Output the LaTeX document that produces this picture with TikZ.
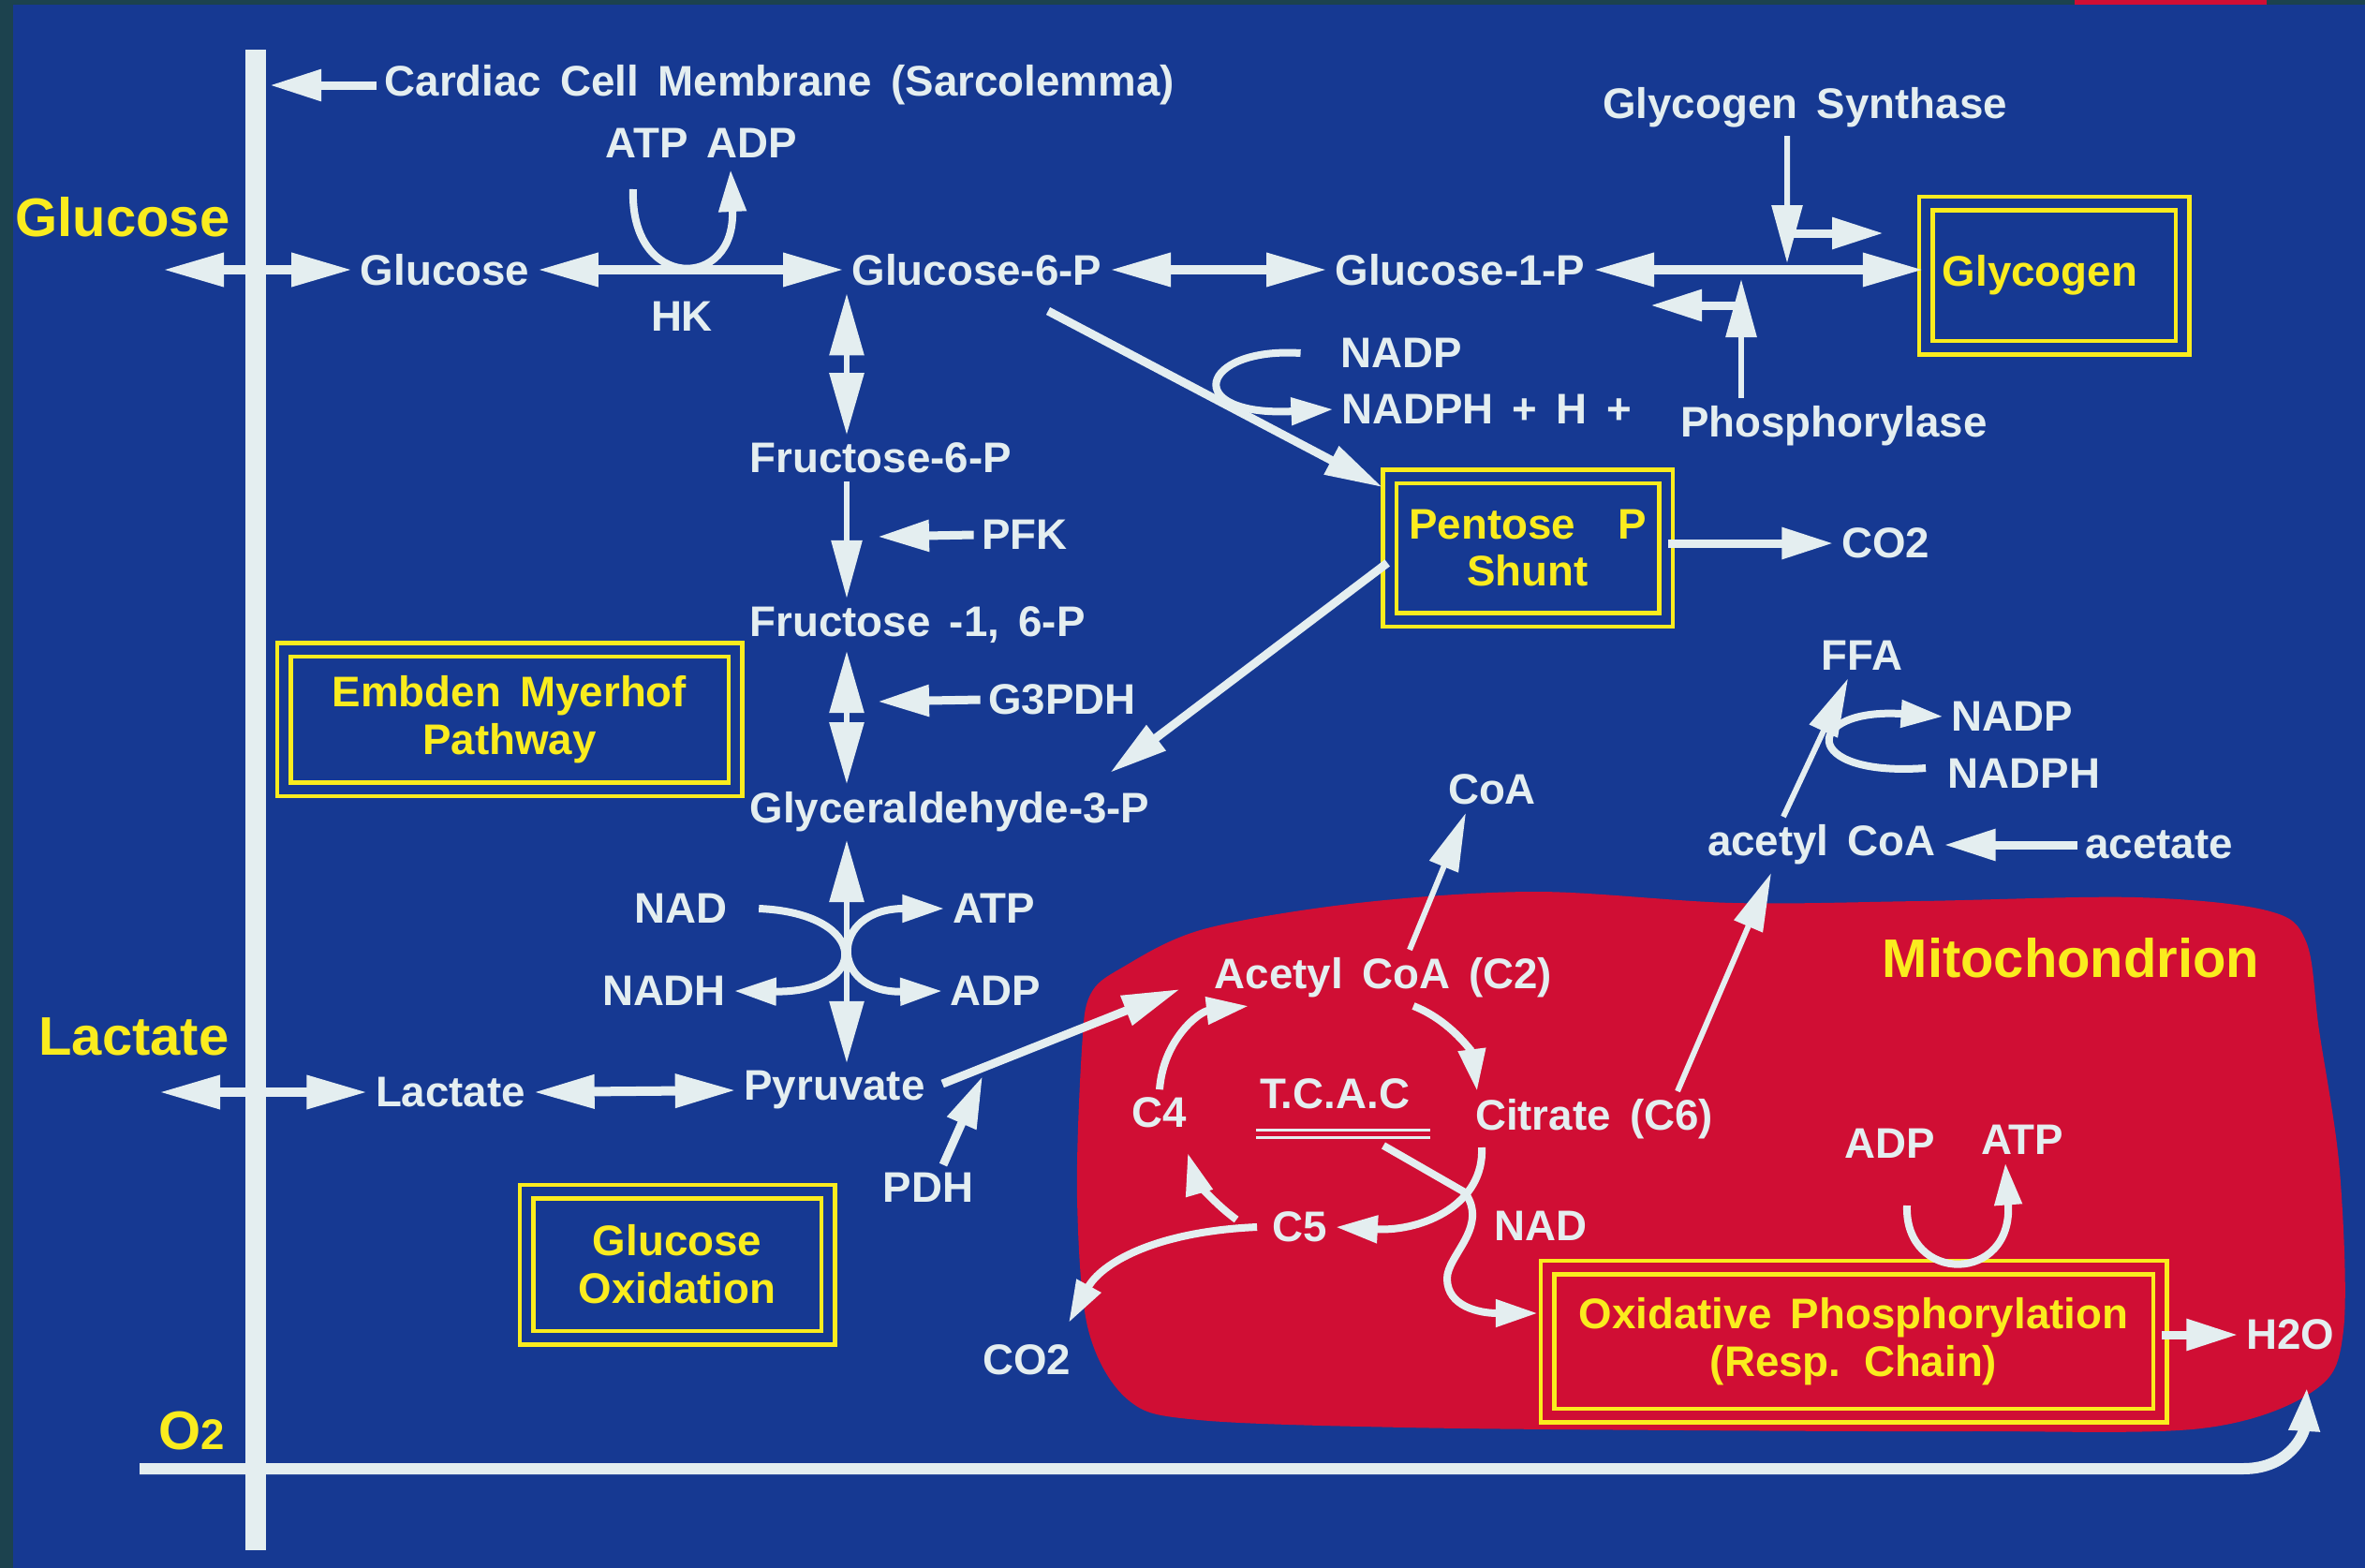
\documentclass[tikz,border=0pt]{standalone}
\usepackage{fontspec}
\setmainfont{Liberation Sans}[WordSpace=1.6]
\usetikzlibrary{arrows.meta}

\definecolor{slidebg}{RGB}{22,57,146}
\definecolor{slideedge}{RGB}{28,66,78}
\definecolor{mitored}{RGB}{208,14,52}
\definecolor{chalk}{RGB}{228,238,240}
\definecolor{lemon}{RGB}{250,236,30}

\tikzset{
    lbl/.style={text=chalk, font=\fontsize{13}{14.5}\selectfont\bfseries, inner sep=0.08cm},
    biglbl/.style={text=lemon, font=\fontsize{16.5}{19}\selectfont\bfseries, inner sep=0pt},
    dbox/.style={lbl, text=lemon, align=center, draw=lemon, line width=0.045cm,
        double=slidebg, double distance=0.1cm},
    dblarr/.style={draw=chalk, line width=0.1cm,
        {Triangle[length=0.65cm,width=0.34cm]}-{Triangle[length=0.65cm,width=0.34cm]}},
    vdblarr/.style={draw=chalk, line width=0.06cm,
        {Triangle[length=0.66cm,width=0.36cm]}-{Triangle[length=0.66cm,width=0.36cm]}},
    arr/.style={draw=chalk, line width=0.09cm, -{Triangle[length=0.55cm,width=0.32cm]}},
    longarr/.style={draw=chalk, line width=0.06cm, -{Triangle[length=0.62cm,width=0.32cm]}},
    bendarr/.style={draw=chalk, line width=0.08cm, -{Triangle[length=0.45cm,width=0.28cm]}},
}

\begin{document}
\begin{tikzpicture}
% slide
\fill[slideedge] (0,0) rectangle (25.25,-16.74);
\fill[slidebg] (0.14,-0.05) rectangle (25.25,-16.74);
\fill[mitored] (22.15,0) rectangle (24.20,-0.05);
\useasboundingbox (0,0) rectangle (25.25,-16.74);

% mitochondrion
\fill[mitored] plot [smooth cycle, tension=0.55] coordinates {(11.55,-11.2) (11.64,-10.62) (11.98,-10.33) (12.85,-9.92) (14.5,-9.64) (16.4,-9.52) (18.5,-9.64) (20.5,-9.62) (22.8,-9.58) (24.2,-9.72) (24.62,-10.05) (24.76,-11.0) (24.98,-12.5) (25.02,-14.2) (24.7,-14.85) (23.5,-15.25) (21,-15.28) (18,-15.27) (15,-15.24) (12.8,-15.16) (12.05,-14.95) (11.62,-14.2) (11.5,-12.8)};

% membrane
\draw[chalk, line width=0.22cm] (2.73,-0.53) -- (2.73,-16.55);

% outside
\node[biglbl] (glcext) at (1.31,-2.32) {Glucose};
\node[biglbl] (lacext) at (1.43,-11.07) {Lactate};
\node[biglbl] (otwo) at (2.05,-15.28) {O{\fontsize{13}{13}\selectfont 2}};

% cytosol
\node[lbl, anchor=west] (cardiac) at (4.02,-0.91) {Cardiac Cell Membrane (Sarcolemma)};
\node[lbl] (atpadp) at (7.49,-1.53) {ATP ADP};
\node[lbl] (hk) at (7.28,-3.38) {HK};
\node[lbl] (glcin) at (4.75,-2.88) {Glucose};
\node[lbl] (g6p) at (10.43,-2.88) {Glucose-6-P};
\node[lbl] (g1p) at (15.59,-2.88) {Glucose-1-P};
\node[dbox, minimum width=2.74cm, minimum height=1.54cm] (glycogen) at (21.93,-2.94) {Glycogen\hspace*{0.3cm}};
\node[lbl] (gsyn) at (19.27,-1.15) {Glycogen Synthase};
\node[lbl] (phos) at (19.58,-4.55) {Phosphorylase};
\node[lbl] (nadpshunt) at (14.96,-3.77) {NADP};
\node[lbl] (nadphshunt) at (15.87,-4.37) {NADPH + H +};
\node[dbox, minimum width=2.95cm, minimum height=1.53cm] (pentose) at (16.31,-5.85) {Pentose\hspace{0.45cm}P\\Shunt};
\node[lbl] (co2a) at (20.13,-5.80) {CO2};
\node[lbl, anchor=west] (f6p) at (7.92,-4.89) {Fructose-6-P};
\node[lbl] (pfk) at (10.94,-5.71) {PFK};
\node[lbl, anchor=west] (f16p) at (7.92,-6.67) {Fructose -1, 6-P};
\node[lbl] (g3pdh) at (11.34,-7.47) {G3PDH};
\node[lbl, anchor=west] (g3p) at (7.92,-8.67) {Glyceraldehyde-3-P};
\node[dbox, minimum width=4.82cm, minimum height=1.49cm] (embden) at (5.44,-7.68) {Embden Myerhof\\Pathway};
\node[lbl] (nad) at (7.27,-9.70) {NAD};
\node[lbl] (nadh) at (7.09,-10.58) {NADH};
\node[lbl] (atp) at (10.61,-9.70) {ATP};
\node[lbl] (adp) at (10.63,-10.58) {ADP};
\node[lbl] (lacin) at (4.81,-11.66) {Lactate};
\node[lbl] (pyr) at (8.91,-11.64) {Pyruvate};
\node[lbl] (pdh) at (9.91,-12.68) {PDH};
\node[dbox, minimum width=3.22cm, minimum height=1.56cm] (glcox) at (7.23,-13.50) {Glucose\\Oxidation};
\node[lbl] (coa) at (15.93,-8.43) {CoA};
\node[lbl] (ffa) at (19.88,-7.00) {FFA};
\node[lbl] (nadpffa) at (21.48,-7.65) {NADP};
\node[lbl] (nadphffa) at (21.61,-8.26) {NADPH};
\node[lbl] (acoa) at (19.45,-9.02) {acetyl CoA};
\node[lbl] (acetate) at (23.05,-9.02) {acetate};

% inside the mitochondrion
\node[biglbl] (mito) at (22.11,-10.23) {Mitochondrion};
\node[lbl] (acetyl) at (14.77,-10.44) {Acetyl CoA (C2)};
\node[lbl] (c4) at (12.38,-11.88) {C4};
\node[lbl] (tcac) at (14.25,-11.68) {T.C.A.C};
\node[lbl] (citrate) at (17.02,-11.95) {Citrate (C6)};
\node[lbl] (c5) at (13.88,-13.10) {C5};
\node[lbl] (nadm) at (16.45,-13.09) {NAD};
\node[lbl] (co2b) at (10.96,-14.52) {CO2};
\node[lbl] (adpm) at (20.18,-12.21) {ADP};
\node[lbl] (atpm) at (21.59,-12.17) {ATP};
\node[dbox, double=mitored, minimum width=6.54cm, minimum height=1.58cm] (oxphos) at (19.79,-14.32) {Oxidative Phosphorylation\\(Resp. Chain)};
\node[lbl] (h2o) at (24.45,-14.25) {H2O};

\coordinate (chain) at (9.04,0);
\coordinate (glcmem) at (1.74,-2.88);
\coordinate (lacmem) at (1.70,-11.66);
\coordinate (memcard) at (2.88,-0.91);
\coordinate (hkin) at (6.76,-2.02);
\coordinate (hkout) at (7.80,-1.81);
\coordinate (gstip) at (19.08,-2.81);
\coordinate (gsbranch) at (20.11,-2.49);
\coordinate (phtip) at (18.59,-2.98);
\coordinate (phbranch) at (17.62,-3.26);
\coordinate (g3ptip) at (11.85,-8.25);
\coordinate (acin) at (12.60,-10.56);
\coordinate (pdhtip) at (10.49,-11.49);
\coordinate (tcacout) at (14.77,-12.23);
\coordinate (adpin) at (20.36,-12.87);

% glucose entry and glycogen
\draw[arr] (cardiac.west) -- (memcard);
\draw[dblarr] (glcmem) -- (glcin.west);
\draw[dblarr] (glcin.east) -- (g6p.west);
\draw[bendarr] (hkin) .. controls (6.72,-3.11) and (7.86,-3.11) .. (hkout);
\draw[dblarr] (g6p.east) -- (g1p.west);
\draw[dblarr] (g1p.east) -- (glycogen.west |- g1p.east);
\draw[longarr] ([xshift=-0.19cm]gsyn.south) -- (gstip);
\draw[arr] (gsbranch -| gstip) -- (gsbranch);
\draw[longarr] ([xshift=-0.99cm]phos.north) -- (phtip);
\draw[arr] (phbranch -| phtip) -- (phbranch);

% pentose shunt
\draw[longarr, line width=0.09cm] ([xshift=0.76cm,yshift=-0.44cm]g6p.center) -- ([xshift=-0.05cm,yshift=-0.14cm]pentose.north west);
\draw[bendarr] ([xshift=-0.34cm]nadpshunt.west) .. controls (12.8,-3.7) and (12.6,-4.45) .. (nadphshunt.west);
\draw[arr] (pentose.east |- co2a.west) -- (co2a.west);
\draw[longarr, line width=0.09cm] ([yshift=-0.16cm]pentose.west) -- (g3ptip);

% glycolysis
\draw[vdblarr] (chain |- g6p.south) -- (chain |- f6p.north);
\draw[longarr] (chain |- f6p.south) -- (chain |- f16p.north);
\draw[arr] (pfk.west) -- (9.37,-5.73);
\draw[vdblarr] (chain |- f16p.south) -- (chain |- g3p.north);
\draw[arr] (g3pdh.west) -- (9.37,-7.49);
\draw[vdblarr] (chain |- g3p.south) -- (chain |- pyr.north);
\draw[bendarr] ([xshift=0.25cm]nad.east) .. controls (9.3,-9.75) and (9.3,-10.6) .. (nadh.east);
\draw[bendarr, {Triangle[length=0.45cm,width=0.28cm]}-{Triangle[length=0.45cm,width=0.28cm]}] (atp.west) .. controls (8.85,-9.7) and (8.85,-10.6) .. (adp.west);

% lactate and pyruvate
\draw[dblarr] (lacmem) -- (lacin.west);
\draw[dblarr] (lacin.east) -- (pyr.west);
\draw[longarr, line width=0.09cm] ([xshift=0.1cm,yshift=0.07cm]pyr.east) -- (acin);
\draw[arr] ([xshift=0.16cm]pdh.north) -- (pdhtip);

% fatty acids
\draw[longarr] ([xshift=0.28cm]acetyl.north) -- ([xshift=-0.28cm]coa.south);
\draw[longarr] ([xshift=-0.41cm]acoa.north) -- ([xshift=-0.15cm]ffa.south);
\draw[bendarr] ([xshift=-0.15cm,yshift=0.06cm]nadphffa.west) .. controls (19.2,-8.3) and (19.25,-7.55) .. (nadpffa.west);
\draw[arr] (acetate.west) -- (acoa.east);
\draw[longarr] ([xshift=0.89cm]citrate.north) -- ([xshift=-0.54cm]acoa.south);

% T.C.A. cycle
\draw[chalk, line width=0.03cm, double=mitored, double distance=0.05cm] (13.41,-12.10) -- (15.27,-12.10);
\draw[bendarr] (c4.north) .. controls (12.42,-11.1) and (12.8,-10.8) .. ([xshift=0.45cm]acetyl.south west);
\draw[bendarr] ([xshift=0.32cm]acetyl.south) .. controls (15.5,-10.9) and (15.72,-11.25) .. ([xshift=-1.25cm]citrate.north);
\draw[bendarr] ([xshift=-1.2cm]citrate.south) .. controls (15.85,-12.85) and (15.2,-13.15) .. (c5.east);
\draw[bendarr] ([xshift=-0.3cm,yshift=0.08cm]c5.west) .. controls (12.9,-12.8) and (12.75,-12.55) .. ([xshift=0.3cm,yshift=-0.18cm]c4.south);
\draw[bendarr] ([xshift=-0.08cm]c5.west) .. controls (12.3,-13.15) and (11.75,-13.5) .. ([xshift=0.45cm,yshift=0.15cm]co2b.north);
\draw[bendarr] (tcacout) -- (15.64,-12.73) .. controls (15.9,-13.1) and (15.45,-13.4) .. (15.45,-13.65) .. controls (15.45,-13.95) and (15.8,-14.02) .. ([xshift=-0.08cm,yshift=0.3cm]oxphos.west);

% respiratory chain
\draw[bendarr] (adpin) .. controls (20.33,-13.71) and (21.5,-13.71) .. ([xshift=-0.18cm]atpm.south);
\draw[arr] (oxphos.east |- h2o.west) -- (h2o.west);
\draw[chalk, line width=0.12cm, -{Triangle[length=0.48cm,width=0.3cm]}] (1.49,-15.68) -- (23.95,-15.68) .. controls (24.45,-15.68) and (24.6,-15.3) .. ([xshift=0.18cm,yshift=-0.3cm]h2o.south);
\end{tikzpicture}
\end{document}
